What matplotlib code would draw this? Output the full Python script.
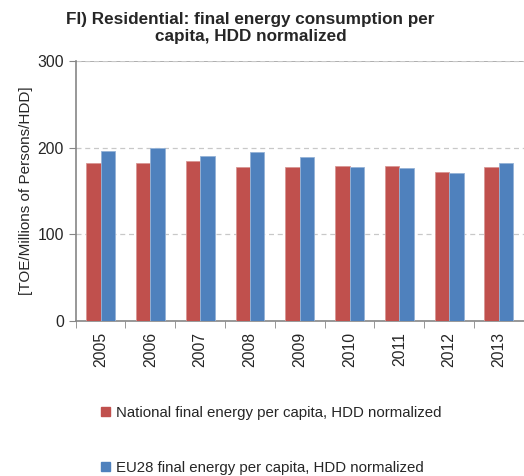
import numpy as np
import matplotlib
matplotlib.use("Agg")
import matplotlib.pyplot as plt
from matplotlib.patches import Patch

plt.rcParams['font.family'] = ['Liberation Sans', 'DejaVu Sans']

years = ['2005', '2006', '2007', '2008', '2009', '2010', '2011', '2012', '2013']
national = [182, 182, 184.5, 178, 178, 179, 179, 172, 178]
eu28 = [196, 200, 190.5, 195, 189, 178, 176, 170.5, 182]

red = '#c0504d'
blue = '#4f81bd'

fig = plt.figure(figsize=(5.24, 4.76), dpi=100)
ax = fig.add_axes([0.1445, 0.3256, 0.855, 0.5462])

x = np.arange(len(years))
w = 0.29
ax.bar(x - w / 2, national, w, color=red, edgecolor='#d99694', linewidth=0.6, zorder=3)
ax.bar(x + w / 2, eu28, w, color=blue, edgecolor='#95b3d7', linewidth=0.6, zorder=3)

ax.set_xlim(-0.5, len(years) - 0.5)
ax.set_ylim(0, 300)
ax.set_yticks([0, 100, 200, 300])
ax.tick_params(axis='y', labelsize=11.3, colors='#262626', length=5, color='#868686')
ax.yaxis.grid(True, linestyle=(0, (4, 3)), color='#c8c8c8', linewidth=0.9, zorder=0)
ax.axhline(300, color='#a0a0a0', linewidth=1.2, zorder=1)

ax.set_xticks(x)
ax.set_xticklabels(years, rotation=90, fontsize=11.3, color='#262626')
ax.set_xticks(np.arange(-0.5, len(years)), minor=True)
ax.tick_params(axis='x', which='major', length=0, pad=8)
ax.tick_params(axis='x', which='minor', length=5, color='#868686')

for s in ['top', 'right']:
    ax.spines[s].set_visible(False)
for s in ['left', 'bottom']:
    ax.spines[s].set_color('#868686')
    ax.spines[s].set_linewidth(1.2)

ax.set_ylabel('[TOE/Millions of Persons/HDD]', fontsize=11, color='#262626', labelpad=3)

fig.text(0.478, 0.975, 'FI) Residential: final energy consumption per\ncapita, HDD normalized',
         ha='center', va='top', fontsize=12.3, fontweight='bold', color='#262626', linespacing=1.15)

handles = [Patch(color=red, label='National final energy per capita, HDD normalized'),
           Patch(color=blue, label='EU28 final energy per capita, HDD normalized')]
fig.legend(handles=handles, loc='upper left', bbox_to_anchor=(0.192, 0.148),
           frameon=False, fontsize=10.8, handlelength=0.6, handleheight=0.6,
           handletextpad=0.4, labelspacing=2.75, labelcolor='#262626',
           borderpad=0, borderaxespad=0)

fig.savefig('out.png', dpi=100)
